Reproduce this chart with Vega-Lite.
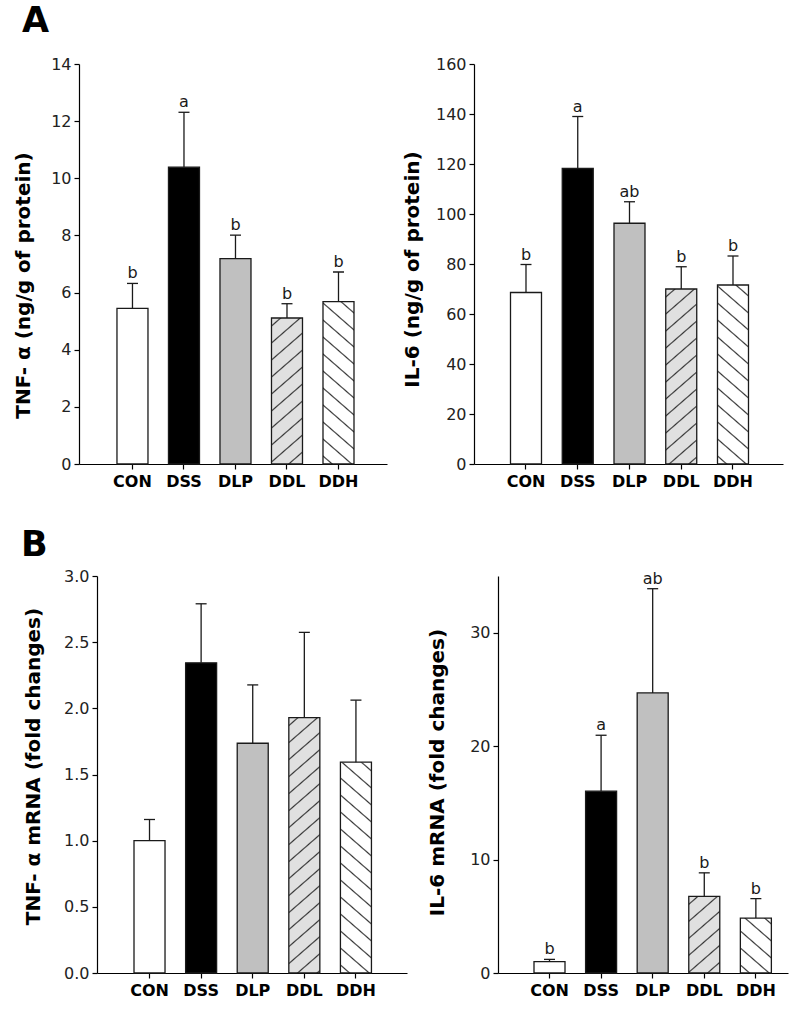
{
 "$schema": "https://vega.github.io/schema/vega-lite/v6.json",
 "padding": {"left": 13, "top": 4, "right": 5, "bottom": 5},
 "background": "white",
 "config": {
  "view": {"stroke": null},
  "font": "DejaVu Sans",
  "axis": {"grid": false, "domainColor": "#000", "domainWidth": 1.2, "tickColor": "#000", "tickWidth": 1.2, "tickSize": 5, "labelColor": "#222", "labelFont": "DejaVu Sans", "titleFont": "DejaVu Sans", "titleColor": "#000"},
  "axisX": {"labelFontSize": 16, "labelFontWeight": "bold", "labelAngle": 0, "labelPadding": 4, "bandPosition": 0.5, "labelColor": "#000"},
  "axisY": {"labelFontSize": 16, "labelPadding": 3, "titleFontSize": 20, "titleFontWeight": "bold"},
  "title": {"font": "DejaVu Sans", "fontWeight": "bold", "fontSize": 35, "anchor": "start", "color": "#000"}
 },
 "spacing": 39,
 "vconcat": [
  {
   "title": {"text": "A", "offset": 17, "dx": 9},
   "bounds": "flush",
   "spacing": 87,
   "hconcat": [
    {
     "width": 308, "height": 400,
     "data": {"values": [
      {"g": "CON", "value": 5.45, "err": 6.32, "letter": "b"},
      {"g": "DSS", "value": 10.39, "err": 12.31, "letter": "a"},
      {"g": "DLP", "value": 7.19, "err": 8.01, "letter": "b"},
      {"g": "DDL", "value": 5.11, "err": 5.61, "letter": "b"},
      {"g": "DDH", "value": 5.68, "err": 6.72, "letter": "b"}
     ]},
     "encoding": {
      "x": {"field": "g", "type": "nominal", "sort": null, "title": null,
            "scale": {"domain": ["CON","DSS","DLP","DDL","DDH"], "paddingInner": 0.398, "paddingOuter": 0.689, "align": 0.535}}
     },
     "layer": [
      {"mark": {"type": "bar", "stroke": "#1a1a1a", "strokeWidth": 1.3},
       "encoding": {
        "y": {"field": "value", "type": "quantitative", "title": "TNF- α  (ng/g of protein)", "scale": {"domain": [0, 14], "nice": false},
              "axis": {"values": [0,2,4,6,8,10,12,14], "titleX": -46, "titleY": 221}},
        "fill": {"condition": [
          {"test": "datum.g === 'DDL'", "value": {"gradient": "linear", "x1": 0, "y1": 0, "x2": 0.36706, "y2": 1.98706, "stops": [{"offset":0.0217,"color":"#e0e0e0"},{"offset":0.0267,"color":"#333"},{"offset":0.0317,"color":"#e0e0e0"},{"offset":0.0783,"color":"#e0e0e0"},{"offset":0.0833,"color":"#333"},{"offset":0.0883,"color":"#e0e0e0"},{"offset":0.135,"color":"#e0e0e0"},{"offset":0.14,"color":"#333"},{"offset":0.145,"color":"#e0e0e0"},{"offset":0.1917,"color":"#e0e0e0"},{"offset":0.1967,"color":"#333"},{"offset":0.2017,"color":"#e0e0e0"},{"offset":0.2483,"color":"#e0e0e0"},{"offset":0.2533,"color":"#333"},{"offset":0.2583,"color":"#e0e0e0"},{"offset":0.305,"color":"#e0e0e0"},{"offset":0.31,"color":"#333"},{"offset":0.315,"color":"#e0e0e0"},{"offset":0.3617,"color":"#e0e0e0"},{"offset":0.3667,"color":"#333"},{"offset":0.3717,"color":"#e0e0e0"},{"offset":0.4183,"color":"#e0e0e0"},{"offset":0.4233,"color":"#333"},{"offset":0.4283,"color":"#e0e0e0"},{"offset":0.475,"color":"#e0e0e0"},{"offset":0.48,"color":"#333"},{"offset":0.485,"color":"#e0e0e0"},{"offset":0.5317,"color":"#e0e0e0"},{"offset":0.5367,"color":"#333"},{"offset":0.5417,"color":"#e0e0e0"},{"offset":0.5883,"color":"#e0e0e0"},{"offset":0.5933,"color":"#333"},{"offset":0.5983,"color":"#e0e0e0"},{"offset":0.645,"color":"#e0e0e0"},{"offset":0.65,"color":"#333"},{"offset":0.655,"color":"#e0e0e0"},{"offset":0.7017,"color":"#e0e0e0"},{"offset":0.7067,"color":"#333"},{"offset":0.7117,"color":"#e0e0e0"},{"offset":0.7583,"color":"#e0e0e0"},{"offset":0.7633,"color":"#333"},{"offset":0.7683,"color":"#e0e0e0"},{"offset":0.815,"color":"#e0e0e0"},{"offset":0.82,"color":"#333"},{"offset":0.825,"color":"#e0e0e0"},{"offset":0.8717,"color":"#e0e0e0"},{"offset":0.8767,"color":"#333"},{"offset":0.8817,"color":"#e0e0e0"},{"offset":0.9283,"color":"#e0e0e0"},{"offset":0.9333,"color":"#333"},{"offset":0.9383,"color":"#e0e0e0"},{"offset":0.985,"color":"#e0e0e0"},{"offset":0.99,"color":"#333"},{"offset":0.995,"color":"#e0e0e0"}]}},
          {"test": "datum.g === 'DDH'", "value": {"gradient": "linear", "x1": 0, "y1": 1, "x2": 0.29891, "y2": -0.79877, "stops": [{"offset":0.0217,"color":"#ffffff"},{"offset":0.0267,"color":"#333"},{"offset":0.0317,"color":"#ffffff"},{"offset":0.0783,"color":"#ffffff"},{"offset":0.0833,"color":"#333"},{"offset":0.0883,"color":"#ffffff"},{"offset":0.135,"color":"#ffffff"},{"offset":0.14,"color":"#333"},{"offset":0.145,"color":"#ffffff"},{"offset":0.1917,"color":"#ffffff"},{"offset":0.1967,"color":"#333"},{"offset":0.2017,"color":"#ffffff"},{"offset":0.2483,"color":"#ffffff"},{"offset":0.2533,"color":"#333"},{"offset":0.2583,"color":"#ffffff"},{"offset":0.305,"color":"#ffffff"},{"offset":0.31,"color":"#333"},{"offset":0.315,"color":"#ffffff"},{"offset":0.3617,"color":"#ffffff"},{"offset":0.3667,"color":"#333"},{"offset":0.3717,"color":"#ffffff"},{"offset":0.4183,"color":"#ffffff"},{"offset":0.4233,"color":"#333"},{"offset":0.4283,"color":"#ffffff"},{"offset":0.475,"color":"#ffffff"},{"offset":0.48,"color":"#333"},{"offset":0.485,"color":"#ffffff"},{"offset":0.5317,"color":"#ffffff"},{"offset":0.5367,"color":"#333"},{"offset":0.5417,"color":"#ffffff"},{"offset":0.5883,"color":"#ffffff"},{"offset":0.5933,"color":"#333"},{"offset":0.5983,"color":"#ffffff"},{"offset":0.645,"color":"#ffffff"},{"offset":0.65,"color":"#333"},{"offset":0.655,"color":"#ffffff"},{"offset":0.7017,"color":"#ffffff"},{"offset":0.7067,"color":"#333"},{"offset":0.7117,"color":"#ffffff"},{"offset":0.7583,"color":"#ffffff"},{"offset":0.7633,"color":"#333"},{"offset":0.7683,"color":"#ffffff"},{"offset":0.815,"color":"#ffffff"},{"offset":0.82,"color":"#333"},{"offset":0.825,"color":"#ffffff"},{"offset":0.8717,"color":"#ffffff"},{"offset":0.8767,"color":"#333"},{"offset":0.8817,"color":"#ffffff"},{"offset":0.9283,"color":"#ffffff"},{"offset":0.9333,"color":"#333"},{"offset":0.9383,"color":"#ffffff"},{"offset":0.985,"color":"#ffffff"},{"offset":0.99,"color":"#333"},{"offset":0.995,"color":"#ffffff"}]}}
         ],
         "field": "g", "type": "nominal", "legend": null,
         "scale": {"domain": ["CON","DSS","DLP","DDL","DDH"], "range": ["#ffffff","#000000","#c0c0c0","#e0e0e0","#ffffff"]}}
       }},
      {"mark": {"type": "rule", "color": "#1a1a1a", "strokeWidth": 1.3},
       "encoding": {"y": {"field": "value", "type": "quantitative", "title": "TNF- α  (ng/g of protein)"}, "y2": {"field": "err"}}},
      {"mark": {"type": "tick", "orient": "horizontal", "size": 11, "thickness": 1.3, "color": "#1a1a1a", "opacity": 1},
       "encoding": {"y": {"field": "err", "type": "quantitative", "title": "TNF- α  (ng/g of protein)"}}},
      {"mark": {"type": "text", "baseline": "bottom", "dy": -2, "fontSize": 16, "color": "#1a1a1a", "font": "DejaVu Sans"},
       "encoding": {"y": {"field": "err", "type": "quantitative", "title": "TNF- α  (ng/g of protein)"}, "text": {"field": "letter"}}}
     ]
    },
    {
     "width": 309, "height": 400,
     "data": {"values": [
      {"g": "CON", "value": 68.6, "err": 79.8, "letter": "b"},
      {"g": "DSS", "value": 118.2, "err": 139.0, "letter": "a"},
      {"g": "DLP", "value": 96.3, "err": 104.9, "letter": "ab"},
      {"g": "DDL", "value": 70.0, "err": 78.9, "letter": "b"},
      {"g": "DDH", "value": 71.6, "err": 83.2, "letter": "b"}
     ]},
     "encoding": {
      "x": {"field": "g", "type": "nominal", "sort": null, "title": null,
            "scale": {"domain": ["CON","DSS","DLP","DDL","DDH"], "paddingInner": 0.401, "paddingOuter": 0.686, "align": 0.514}}
     },
     "layer": [
      {"mark": {"type": "bar", "stroke": "#1a1a1a", "strokeWidth": 1.3},
       "encoding": {
        "y": {"field": "value", "type": "quantitative", "title": "IL-6 (ng/g of protein)", "scale": {"domain": [0, 160], "nice": false},
              "axis": {"values": [0,20,40,60,80,100,120,140,160], "titleX": -52, "titleY": 205}},
        "fill": {"condition": [
          {"test": "datum.g === 'DDL'", "value": {"gradient": "linear", "x1": 0, "y1": 0, "x2": 0.25807, "y2": 1.67451, "stops": [{"offset":0.0217,"color":"#e0e0e0"},{"offset":0.0267,"color":"#333"},{"offset":0.0317,"color":"#e0e0e0"},{"offset":0.0783,"color":"#e0e0e0"},{"offset":0.0833,"color":"#333"},{"offset":0.0883,"color":"#e0e0e0"},{"offset":0.135,"color":"#e0e0e0"},{"offset":0.14,"color":"#333"},{"offset":0.145,"color":"#e0e0e0"},{"offset":0.1917,"color":"#e0e0e0"},{"offset":0.1967,"color":"#333"},{"offset":0.2017,"color":"#e0e0e0"},{"offset":0.2483,"color":"#e0e0e0"},{"offset":0.2533,"color":"#333"},{"offset":0.2583,"color":"#e0e0e0"},{"offset":0.305,"color":"#e0e0e0"},{"offset":0.31,"color":"#333"},{"offset":0.315,"color":"#e0e0e0"},{"offset":0.3617,"color":"#e0e0e0"},{"offset":0.3667,"color":"#333"},{"offset":0.3717,"color":"#e0e0e0"},{"offset":0.4183,"color":"#e0e0e0"},{"offset":0.4233,"color":"#333"},{"offset":0.4283,"color":"#e0e0e0"},{"offset":0.475,"color":"#e0e0e0"},{"offset":0.48,"color":"#333"},{"offset":0.485,"color":"#e0e0e0"},{"offset":0.5317,"color":"#e0e0e0"},{"offset":0.5367,"color":"#333"},{"offset":0.5417,"color":"#e0e0e0"},{"offset":0.5883,"color":"#e0e0e0"},{"offset":0.5933,"color":"#333"},{"offset":0.5983,"color":"#e0e0e0"},{"offset":0.645,"color":"#e0e0e0"},{"offset":0.65,"color":"#333"},{"offset":0.655,"color":"#e0e0e0"},{"offset":0.7017,"color":"#e0e0e0"},{"offset":0.7067,"color":"#333"},{"offset":0.7117,"color":"#e0e0e0"},{"offset":0.7583,"color":"#e0e0e0"},{"offset":0.7633,"color":"#333"},{"offset":0.7683,"color":"#e0e0e0"},{"offset":0.815,"color":"#e0e0e0"},{"offset":0.82,"color":"#333"},{"offset":0.825,"color":"#e0e0e0"},{"offset":0.8717,"color":"#e0e0e0"},{"offset":0.8767,"color":"#333"},{"offset":0.8817,"color":"#e0e0e0"},{"offset":0.9283,"color":"#e0e0e0"},{"offset":0.9333,"color":"#333"},{"offset":0.9383,"color":"#e0e0e0"},{"offset":0.985,"color":"#e0e0e0"},{"offset":0.99,"color":"#333"},{"offset":0.995,"color":"#e0e0e0"}]}},
          {"test": "datum.g === 'DDH'", "value": {"gradient": "linear", "x1": 0, "y1": 1, "x2": 0.24692, "y2": -0.63878, "stops": [{"offset":0.0217,"color":"#ffffff"},{"offset":0.0267,"color":"#333"},{"offset":0.0317,"color":"#ffffff"},{"offset":0.0783,"color":"#ffffff"},{"offset":0.0833,"color":"#333"},{"offset":0.0883,"color":"#ffffff"},{"offset":0.135,"color":"#ffffff"},{"offset":0.14,"color":"#333"},{"offset":0.145,"color":"#ffffff"},{"offset":0.1917,"color":"#ffffff"},{"offset":0.1967,"color":"#333"},{"offset":0.2017,"color":"#ffffff"},{"offset":0.2483,"color":"#ffffff"},{"offset":0.2533,"color":"#333"},{"offset":0.2583,"color":"#ffffff"},{"offset":0.305,"color":"#ffffff"},{"offset":0.31,"color":"#333"},{"offset":0.315,"color":"#ffffff"},{"offset":0.3617,"color":"#ffffff"},{"offset":0.3667,"color":"#333"},{"offset":0.3717,"color":"#ffffff"},{"offset":0.4183,"color":"#ffffff"},{"offset":0.4233,"color":"#333"},{"offset":0.4283,"color":"#ffffff"},{"offset":0.475,"color":"#ffffff"},{"offset":0.48,"color":"#333"},{"offset":0.485,"color":"#ffffff"},{"offset":0.5317,"color":"#ffffff"},{"offset":0.5367,"color":"#333"},{"offset":0.5417,"color":"#ffffff"},{"offset":0.5883,"color":"#ffffff"},{"offset":0.5933,"color":"#333"},{"offset":0.5983,"color":"#ffffff"},{"offset":0.645,"color":"#ffffff"},{"offset":0.65,"color":"#333"},{"offset":0.655,"color":"#ffffff"},{"offset":0.7017,"color":"#ffffff"},{"offset":0.7067,"color":"#333"},{"offset":0.7117,"color":"#ffffff"},{"offset":0.7583,"color":"#ffffff"},{"offset":0.7633,"color":"#333"},{"offset":0.7683,"color":"#ffffff"},{"offset":0.815,"color":"#ffffff"},{"offset":0.82,"color":"#333"},{"offset":0.825,"color":"#ffffff"},{"offset":0.8717,"color":"#ffffff"},{"offset":0.8767,"color":"#333"},{"offset":0.8817,"color":"#ffffff"},{"offset":0.9283,"color":"#ffffff"},{"offset":0.9333,"color":"#333"},{"offset":0.9383,"color":"#ffffff"},{"offset":0.985,"color":"#ffffff"},{"offset":0.99,"color":"#333"},{"offset":0.995,"color":"#ffffff"}]}}
         ],
         "field": "g", "type": "nominal", "legend": null,
         "scale": {"domain": ["CON","DSS","DLP","DDL","DDH"], "range": ["#ffffff","#000000","#c0c0c0","#e0e0e0","#ffffff"]}}
       }},
      {"mark": {"type": "rule", "color": "#1a1a1a", "strokeWidth": 1.3},
       "encoding": {"y": {"field": "value", "type": "quantitative", "title": "IL-6 (ng/g of protein)"}, "y2": {"field": "err"}}},
      {"mark": {"type": "tick", "orient": "horizontal", "size": 11, "thickness": 1.3, "color": "#1a1a1a", "opacity": 1},
       "encoding": {"y": {"field": "err", "type": "quantitative", "title": "IL-6 (ng/g of protein)"}}},
      {"mark": {"type": "text", "baseline": "bottom", "dy": -2, "fontSize": 16, "color": "#1a1a1a", "font": "DejaVu Sans"},
       "encoding": {"y": {"field": "err", "type": "quantitative", "title": "IL-6 (ng/g of protein)"}, "text": {"field": "letter"}}}
     ]
    }
   ]
  },
  {
   "title": {"text": "B", "offset": 5, "dx": -2},
   "bounds": "flush",
   "spacing": 91,
   "hconcat": [
    {
     "width": 328, "height": 397,
     "data": {"values": [
      {"g": "CON", "value": 1.0, "err": 1.16},
      {"g": "DSS", "value": 2.344, "err": 2.79},
      {"g": "DLP", "value": 1.736, "err": 2.177},
      {"g": "DDL", "value": 1.93, "err": 2.574},
      {"g": "DDH", "value": 1.593, "err": 2.062}
     ]},
     "encoding": {
      "x": {"field": "g", "type": "nominal", "sort": null, "title": null,
            "scale": {"domain": ["CON","DSS","DLP","DDL","DDH"], "range": [18, 328], "paddingInner": 0.399, "paddingOuter": 0.703, "align": 0.51}}
     },
     "layer": [
      {"mark": {"type": "bar", "stroke": "#1a1a1a", "strokeWidth": 1.3},
       "encoding": {
        "y": {"field": "value", "type": "quantitative", "title": "TNF- α  mRNA (fold changes)", "scale": {"domain": [0, 3], "nice": false},
              "axis": {"values": [0,0.5,1,1.5,2,2.5,3], "format": ".1f", "offset": -18, "titleX": -54, "titleY": 190}},
        "fill": {"condition": [
          {"test": "datum.g === 'DDL'", "value": {"gradient": "linear", "x1": 0, "y1": 0, "x2": 0.12267, "y2": 1.16168, "stops": [{"offset":0.0217,"color":"#e0e0e0"},{"offset":0.0267,"color":"#333"},{"offset":0.0317,"color":"#e0e0e0"},{"offset":0.0783,"color":"#e0e0e0"},{"offset":0.0833,"color":"#333"},{"offset":0.0883,"color":"#e0e0e0"},{"offset":0.135,"color":"#e0e0e0"},{"offset":0.14,"color":"#333"},{"offset":0.145,"color":"#e0e0e0"},{"offset":0.1917,"color":"#e0e0e0"},{"offset":0.1967,"color":"#333"},{"offset":0.2017,"color":"#e0e0e0"},{"offset":0.2483,"color":"#e0e0e0"},{"offset":0.2533,"color":"#333"},{"offset":0.2583,"color":"#e0e0e0"},{"offset":0.305,"color":"#e0e0e0"},{"offset":0.31,"color":"#333"},{"offset":0.315,"color":"#e0e0e0"},{"offset":0.3617,"color":"#e0e0e0"},{"offset":0.3667,"color":"#333"},{"offset":0.3717,"color":"#e0e0e0"},{"offset":0.4183,"color":"#e0e0e0"},{"offset":0.4233,"color":"#333"},{"offset":0.4283,"color":"#e0e0e0"},{"offset":0.475,"color":"#e0e0e0"},{"offset":0.48,"color":"#333"},{"offset":0.485,"color":"#e0e0e0"},{"offset":0.5317,"color":"#e0e0e0"},{"offset":0.5367,"color":"#333"},{"offset":0.5417,"color":"#e0e0e0"},{"offset":0.5883,"color":"#e0e0e0"},{"offset":0.5933,"color":"#333"},{"offset":0.5983,"color":"#e0e0e0"},{"offset":0.645,"color":"#e0e0e0"},{"offset":0.65,"color":"#333"},{"offset":0.655,"color":"#e0e0e0"},{"offset":0.7017,"color":"#e0e0e0"},{"offset":0.7067,"color":"#333"},{"offset":0.7117,"color":"#e0e0e0"},{"offset":0.7583,"color":"#e0e0e0"},{"offset":0.7633,"color":"#333"},{"offset":0.7683,"color":"#e0e0e0"},{"offset":0.815,"color":"#e0e0e0"},{"offset":0.82,"color":"#333"},{"offset":0.825,"color":"#e0e0e0"},{"offset":0.8717,"color":"#e0e0e0"},{"offset":0.8767,"color":"#333"},{"offset":0.8817,"color":"#e0e0e0"},{"offset":0.9283,"color":"#e0e0e0"},{"offset":0.9333,"color":"#333"},{"offset":0.9383,"color":"#e0e0e0"},{"offset":0.985,"color":"#e0e0e0"},{"offset":0.99,"color":"#333"},{"offset":0.995,"color":"#e0e0e0"}]}},
          {"test": "datum.g === 'DDH'", "value": {"gradient": "linear", "x1": 0, "y1": 1, "x2": 0.17915, "y2": -0.40024, "stops": [{"offset":0.0217,"color":"#ffffff"},{"offset":0.0267,"color":"#333"},{"offset":0.0317,"color":"#ffffff"},{"offset":0.0783,"color":"#ffffff"},{"offset":0.0833,"color":"#333"},{"offset":0.0883,"color":"#ffffff"},{"offset":0.135,"color":"#ffffff"},{"offset":0.14,"color":"#333"},{"offset":0.145,"color":"#ffffff"},{"offset":0.1917,"color":"#ffffff"},{"offset":0.1967,"color":"#333"},{"offset":0.2017,"color":"#ffffff"},{"offset":0.2483,"color":"#ffffff"},{"offset":0.2533,"color":"#333"},{"offset":0.2583,"color":"#ffffff"},{"offset":0.305,"color":"#ffffff"},{"offset":0.31,"color":"#333"},{"offset":0.315,"color":"#ffffff"},{"offset":0.3617,"color":"#ffffff"},{"offset":0.3667,"color":"#333"},{"offset":0.3717,"color":"#ffffff"},{"offset":0.4183,"color":"#ffffff"},{"offset":0.4233,"color":"#333"},{"offset":0.4283,"color":"#ffffff"},{"offset":0.475,"color":"#ffffff"},{"offset":0.48,"color":"#333"},{"offset":0.485,"color":"#ffffff"},{"offset":0.5317,"color":"#ffffff"},{"offset":0.5367,"color":"#333"},{"offset":0.5417,"color":"#ffffff"},{"offset":0.5883,"color":"#ffffff"},{"offset":0.5933,"color":"#333"},{"offset":0.5983,"color":"#ffffff"},{"offset":0.645,"color":"#ffffff"},{"offset":0.65,"color":"#333"},{"offset":0.655,"color":"#ffffff"},{"offset":0.7017,"color":"#ffffff"},{"offset":0.7067,"color":"#333"},{"offset":0.7117,"color":"#ffffff"},{"offset":0.7583,"color":"#ffffff"},{"offset":0.7633,"color":"#333"},{"offset":0.7683,"color":"#ffffff"},{"offset":0.815,"color":"#ffffff"},{"offset":0.82,"color":"#333"},{"offset":0.825,"color":"#ffffff"},{"offset":0.8717,"color":"#ffffff"},{"offset":0.8767,"color":"#333"},{"offset":0.8817,"color":"#ffffff"},{"offset":0.9283,"color":"#ffffff"},{"offset":0.9333,"color":"#333"},{"offset":0.9383,"color":"#ffffff"},{"offset":0.985,"color":"#ffffff"},{"offset":0.99,"color":"#333"},{"offset":0.995,"color":"#ffffff"}]}}
         ],
         "field": "g", "type": "nominal", "legend": null,
         "scale": {"domain": ["CON","DSS","DLP","DDL","DDH"], "range": ["#ffffff","#000000","#c0c0c0","#e0e0e0","#ffffff"]}}
       }},
      {"mark": {"type": "rule", "color": "#1a1a1a", "strokeWidth": 1.3},
       "encoding": {"y": {"field": "value", "type": "quantitative", "title": "TNF- α  mRNA (fold changes)"}, "y2": {"field": "err"}}},
      {"mark": {"type": "tick", "orient": "horizontal", "size": 11, "thickness": 1.3, "color": "#1a1a1a", "opacity": 1},
       "encoding": {"y": {"field": "err", "type": "quantitative", "title": "TNF- α  mRNA (fold changes)"}}}
     ]
    },
    {
     "width": 290, "height": 397,
     "data": {"values": [
      {"g": "CON", "value": 1.0, "err": 1.2, "letter": "b"},
      {"g": "DSS", "value": 16.03, "err": 20.96, "letter": "a"},
      {"g": "DLP", "value": 24.69, "err": 33.88, "letter": "ab"},
      {"g": "DDL", "value": 6.76, "err": 8.83, "letter": "b"},
      {"g": "DDH", "value": 4.84, "err": 6.56, "letter": "b"}
     ]},
     "encoding": {
      "x": {"field": "g", "type": "nominal", "sort": null, "title": null,
            "scale": {"domain": ["CON","DSS","DLP","DDL","DDH"], "paddingInner": 0.399, "paddingOuter": 0.51, "align": 0.684}}
     },
     "layer": [
      {"mark": {"type": "bar", "stroke": "#1a1a1a", "strokeWidth": 1.3},
       "encoding": {
        "y": {"field": "value", "type": "quantitative", "title": "IL-6 mRNA (fold changes)", "scale": {"domain": [0, 35], "nice": false},
              "axis": {"values": [0,10,20,30], "titleX": -51, "titleY": 196}},
        "fill": {"condition": [
          {"test": "datum.g === 'DDL'", "value": {"gradient": "linear", "x1": 0, "y1": 0, "x2": 1.224, "y2": 3.48095, "stops": [{"offset":0.0217,"color":"#e0e0e0"},{"offset":0.0267,"color":"#333"},{"offset":0.0317,"color":"#e0e0e0"},{"offset":0.0783,"color":"#e0e0e0"},{"offset":0.0833,"color":"#333"},{"offset":0.0883,"color":"#e0e0e0"},{"offset":0.135,"color":"#e0e0e0"},{"offset":0.14,"color":"#333"},{"offset":0.145,"color":"#e0e0e0"},{"offset":0.1917,"color":"#e0e0e0"},{"offset":0.1967,"color":"#333"},{"offset":0.2017,"color":"#e0e0e0"},{"offset":0.2483,"color":"#e0e0e0"},{"offset":0.2533,"color":"#333"},{"offset":0.2583,"color":"#e0e0e0"},{"offset":0.305,"color":"#e0e0e0"},{"offset":0.31,"color":"#333"},{"offset":0.315,"color":"#e0e0e0"},{"offset":0.3617,"color":"#e0e0e0"},{"offset":0.3667,"color":"#333"},{"offset":0.3717,"color":"#e0e0e0"},{"offset":0.4183,"color":"#e0e0e0"},{"offset":0.4233,"color":"#333"},{"offset":0.4283,"color":"#e0e0e0"}]}},
          {"test": "datum.g === 'DDH'", "value": {"gradient": "linear", "x1": 0, "y1": 1, "x2": 2.16256, "y2": -3.4021, "stops": [{"offset":0.0217,"color":"#ffffff"},{"offset":0.0267,"color":"#333"},{"offset":0.0317,"color":"#ffffff"},{"offset":0.0783,"color":"#ffffff"},{"offset":0.0833,"color":"#333"},{"offset":0.0883,"color":"#ffffff"},{"offset":0.135,"color":"#ffffff"},{"offset":0.14,"color":"#333"},{"offset":0.145,"color":"#ffffff"},{"offset":0.1917,"color":"#ffffff"},{"offset":0.1967,"color":"#333"},{"offset":0.2017,"color":"#ffffff"},{"offset":0.2483,"color":"#ffffff"},{"offset":0.2533,"color":"#333"},{"offset":0.2583,"color":"#ffffff"},{"offset":0.305,"color":"#ffffff"},{"offset":0.31,"color":"#333"},{"offset":0.315,"color":"#ffffff"}]}}
         ],
         "field": "g", "type": "nominal", "legend": null,
         "scale": {"domain": ["CON","DSS","DLP","DDL","DDH"], "range": ["#ffffff","#000000","#c0c0c0","#e0e0e0","#ffffff"]}}
       }},
      {"mark": {"type": "rule", "color": "#1a1a1a", "strokeWidth": 1.3},
       "encoding": {"y": {"field": "value", "type": "quantitative", "title": "IL-6 mRNA (fold changes)"}, "y2": {"field": "err"}}},
      {"mark": {"type": "tick", "orient": "horizontal", "size": 11, "thickness": 1.3, "color": "#1a1a1a", "opacity": 1},
       "encoding": {"y": {"field": "err", "type": "quantitative", "title": "IL-6 mRNA (fold changes)"}}},
      {"mark": {"type": "text", "baseline": "bottom", "dy": -2, "fontSize": 16, "color": "#1a1a1a", "font": "DejaVu Sans"},
       "encoding": {"y": {"field": "err", "type": "quantitative", "title": "IL-6 mRNA (fold changes)"}, "text": {"field": "letter"}}}
     ]
    }
   ]
  }
 ]
}
